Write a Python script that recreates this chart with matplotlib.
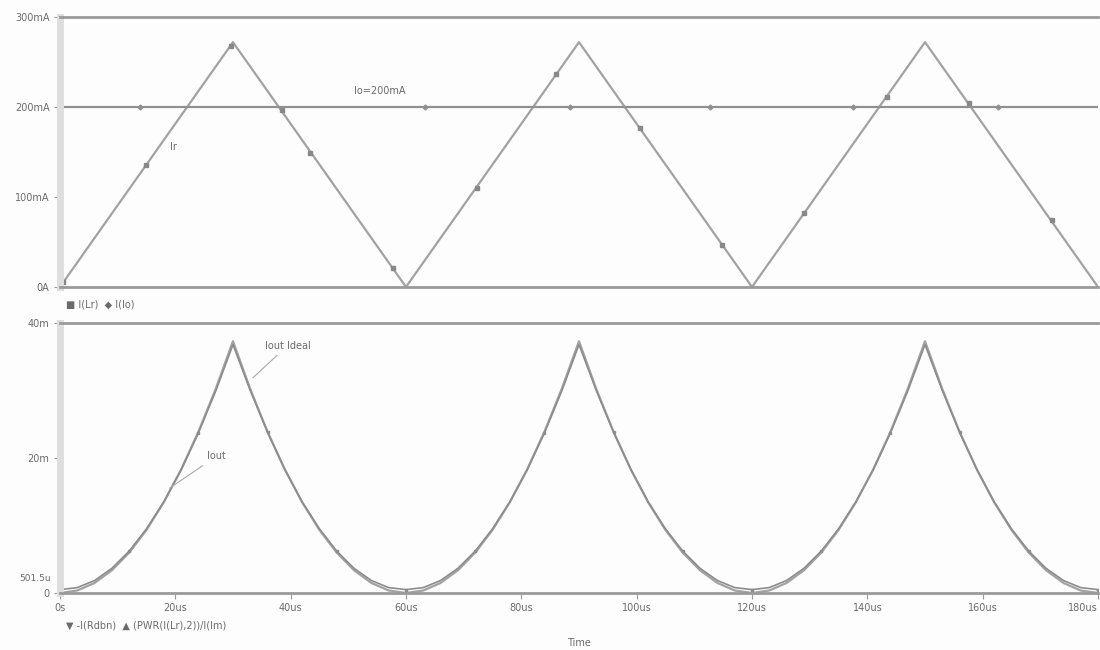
import matplotlib.pyplot as plt
import numpy as np

# top plot: I(Lr) triangle and Io level (mA, us)
t_tri = [0, 30, 60, 90, 120, 150, 180]
i_lr = [0, 272, 0, 272, 0, 272, 0]
t_io = [0, 180]
i_io = [200, 200]

# symbol positions
lr_mark_t = [0.5, 15, 29.6, 38.5, 43.4, 57.8, 72.3, 86.1, 100.6, 114.8, 129.1, 143.4, 157.7, 172.1]
lr_mark_i = [5, 136, 268, 197, 149, 21, 110, 237, 177, 47, 82, 211, 204, 74]
io_mark_t = [13.8, 63.3, 88.4, 112.7, 137.6, 162.6]

# bottom plot: Iout and Iout ideal (mA), sampled every 3 us
t_pwr = np.arange(0, 181, 3)
iout_ideal = [0, 0.37, 1.49, 3.36, 5.97, 9.33, 13.43, 18.28, 23.87, 30.21, 37.30,
              30.21, 23.87, 18.28, 13.43, 9.33, 5.97, 3.36, 1.49, 0.37, 0,
              0.37, 1.49, 3.36, 5.97, 9.33, 13.43, 18.28, 23.87, 30.21, 37.30,
              30.21, 23.87, 18.28, 13.43, 9.33, 5.97, 3.36, 1.49, 0.37, 0,
              0.37, 1.49, 3.36, 5.97, 9.33, 13.43, 18.28, 23.87, 30.21, 37.30,
              30.21, 23.87, 18.28, 13.43, 9.33, 5.97, 3.36, 1.49, 0.37, 0]
iout = [0.50, 0.80, 1.85, 3.65, 6.20, 9.50, 13.50, 18.20, 23.70, 29.90, 36.80,
        30.00, 23.80, 18.30, 13.50, 9.50, 6.20, 3.65, 1.85, 0.80, 0.50,
        0.80, 1.85, 3.65, 6.20, 9.50, 13.50, 18.20, 23.70, 29.90, 36.80,
        30.00, 23.80, 18.30, 13.50, 9.50, 6.20, 3.65, 1.85, 0.80, 0.50,
        0.80, 1.85, 3.65, 6.20, 9.50, 13.50, 18.20, 23.70, 29.90, 36.80,
        30.00, 23.80, 18.30, 13.50, 9.50, 6.20, 3.65, 1.85, 0.80, 0.50]

x_ticks = [0, 20, 40, 60, 80, 100, 120, 140, 160, 180]
x_labels = ['0s', '20us', '40us', '60us', '80us', '100us', '120us', '140us', '160us', '180us']

trace = '#a2a2a2'
axc = '#9a9a9a'
txt = '#6a6a6a'

fig = plt.figure(figsize=(11, 6.5), dpi=100)
fig.patch.set_facecolor('#fdfdfd')

ax1 = fig.add_axes([0.0545, 0.5585, 0.9437, 0.4154])
ax2 = fig.add_axes([0.0545, 0.0877, 0.9437, 0.4154])

for ax in (ax1, ax2):
    ax.set_facecolor('#fdfdfd')
    ax.set_xlim(0, 180)
    ax.spines['right'].set_visible(False)
    ax.spines['top'].set_color(axc)
    ax.spines['bottom'].set_color(axc)
    ax.spines['top'].set_linewidth(2)
    ax.spines['bottom'].set_linewidth(2)
    ax.spines['left'].set_color('#dedede')
    ax.spines['left'].set_linewidth(5)
    ax.tick_params(colors=axc, labelcolor=txt, labelsize=7, length=4)

# top
ax1.plot(t_tri, i_lr, color=trace, lw=1.6)
ax1.plot(lr_mark_t, lr_mark_i, ls='none', marker='s', ms=3, color='#888888')
ax1.plot(t_io, i_io, color='#909090', lw=1.6)
ax1.plot(io_mark_t, [200] * len(io_mark_t), ls='none', marker='D', ms=2.5, color='#909090')
ax1.set_ylim(0, 300)
ax1.set_yticks([0, 100, 200, 300])
ax1.set_yticklabels(['0A', '100mA', '200mA', '300mA'])
ax1.set_xticks([])
ax1.text(51, 214, 'Io=200mA', fontsize=7, color=txt)
ax1.text(19, 152, 'Ir', fontsize=7, color=txt)

# bottom
ax2.plot(t_pwr, iout_ideal, color=trace, lw=1.6)
ax2.plot(t_pwr, iout, color='#8c8c8c', lw=1.2, marker='s', ms=2, markevery=4)
ax2.set_ylim(0, 40)
ax2.set_yticks([0, 20, 40])
ax2.set_yticklabels(['0', '20m', '40m'])
ax2.set_xticks(x_ticks)
ax2.set_xticklabels(x_labels)
ax2.get_xticklabels()[-1].set_horizontalalignment('right')
ax2.text(-1.5, 2.2, '501.5u', fontsize=6.5, color=txt, ha='right', va='center')
ax2.annotate('Iout Ideal', xy=(33.1, 31.6), xytext=(35.5, 36.2), fontsize=7, color=txt,
             arrowprops=dict(arrowstyle='-', color='#aaaaaa', lw=0.8))
ax2.annotate('Iout', xy=(18.6, 15.3), xytext=(25.5, 19.8), fontsize=7, color=txt,
             arrowprops=dict(arrowstyle='-', color='#aaaaaa', lw=0.8))
ax2.set_xlabel('Time', fontsize=7, color=txt, labelpad=18)

fig.text(0.06, 0.531, '\u25a0 I(Lr)  \u25c6 I(Io)', fontsize=7, color=txt, va='center')
fig.text(0.06, 0.037, '\u25bc -I(Rdbn)  \u25b2 (PWR(I(Lr),2))/I(Im)', fontsize=7, color=txt,
         va='center')

fig.savefig('out.png', dpi=100, facecolor=fig.get_facecolor())
